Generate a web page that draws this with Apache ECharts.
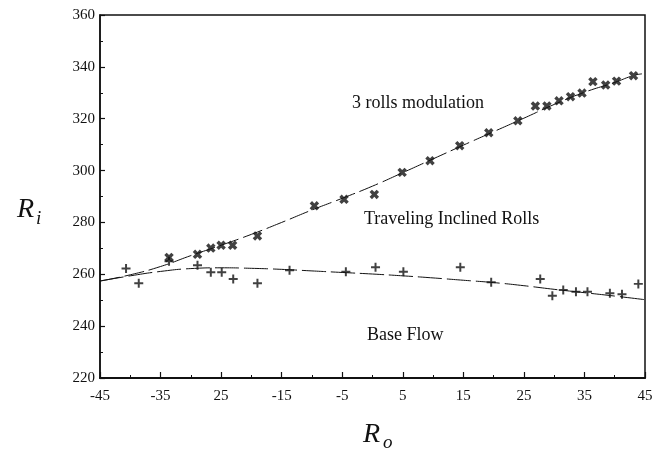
<!DOCTYPE html>
<html>
<head>
<meta charset="utf-8">
<script src="https://cdn.jsdelivr.net/npm/echarts@6/dist/echarts.min.js"></script>
<style>
html,body{margin:0;padding:0;background:#fff;}
#chart{width:666px;height:454px;}
</style>
</head>
<body>
<div id="chart"></div>
<script>
// ---- data ----
var xTickValues = [-45, -35, -25, -15, -5, 5, 15, 25, 35, 45];
var xTickLabels = ['-45', '-35', '25', '-15', '-5', '5', '15', '25', '35', '45'];
var yTickLabels = ['220', '240', '260', '280', '300', '320', '340', '360'];

// "x" markers (3 rolls modulation branch)
var crossX = [-33.6, -28.9, -26.7, -25.0, -23.1, -19.0, -9.6, -4.7, 0.3, 4.9, 9.5, 14.4, 19.2, 24.0, 26.9, 28.8, 30.8, 32.7, 34.6, 36.4, 38.5, 40.3, 43.1];
var crossY = [266.5, 267.7, 270.1, 271.2, 271.2, 274.8, 286.4, 288.9, 290.8, 299.3, 303.8, 309.6, 314.6, 319.2, 324.9, 324.9, 326.9, 328.5, 329.9, 334.3, 333.0, 334.5, 336.6];

// "+" markers (base flow boundary)
var plusX = [-40.7, -38.6, -33.6, -28.9, -26.7, -24.9, -23.0, -19.0, -13.7, -4.4, 0.5, 5.1, 14.5, 19.6, 27.7, 29.7, 31.5, 33.6, 35.5, 39.2, 41.2, 43.9];
var plusY = [262.2, 256.5, 265.0, 263.5, 260.8, 260.8, 258.2, 256.5, 261.6, 261.0, 262.7, 261.0, 262.7, 256.9, 258.2, 251.7, 253.9, 253.3, 253.3, 252.7, 252.3, 256.3];

// dashed fitted curves
var upperLineX = [-45, -40, -35, -30, -25, -20, -15, -10, -5, 0, 5, 10, 15, 20, 25, 30, 35, 40, 43, 44.5];
var upperLineY = [257.4, 259.8, 263.0, 267.2, 271.2, 275.4, 280.0, 284.8, 289.3, 294.0, 299.2, 304.5, 309.8, 315.0, 320.2, 325.5, 330.2, 334.0, 336.6, 337.3];
var lowerLineX = [-45, -40, -35, -30, -25, -20, -15, -10, -5, 0, 5, 10, 15, 20, 25, 30, 35, 40, 45];
var lowerLineY = [257.4, 259.4, 261.1, 262.2, 262.5, 262.3, 261.9, 261.3, 260.7, 260.1, 259.4, 258.6, 257.7, 256.8, 255.6, 254.2, 252.9, 251.6, 250.2];

function zip(a, b) { return a.map(function (v, i) { return [v, b[i]]; }); }

var FONT = 'Liberation Serif';
var INK = '#111';
var plusPath = 'path://M3.9 0H6.1V3.9H10V6.1H6.1V10H3.9V6.1H0V3.9H3.9Z';
var crossPath = 'path://M3.3 0H6.7V3.3H10V6.7H6.7V10H3.3V6.7H0V3.3H3.3Z';

var chart = echarts.init(document.getElementById('chart'));
chart.setOption({
  backgroundColor: '#fff',
  animation: false,
  grid: { left: 100, right: 21, top: 15, bottom: 76, show: true, borderColor: INK, borderWidth: 1.5, backgroundColor: 'transparent' },
  xAxis: [{
    type: 'value', min: -45, max: 45, interval: 5,
    axisLine: { show: true, onZero: false, lineStyle: { color: INK, width: 2 } },
    axisTick: { show: true, inside: true, length: 6, customValues: xTickValues, lineStyle: { color: INK, width: 1.2 } },
    axisLabel: { show: true, customValues: xTickValues, margin: 11, color: INK, fontFamily: FONT, fontSize: 15,
      formatter: function (v) { var i = xTickValues.indexOf(v); return i >= 0 ? xTickLabels[i] : ''; } },
    splitLine: { show: false }
  }, {
    type: 'value', min: -45, max: 45, interval: 5, position: 'bottom',
    axisLine: { show: false, onZero: false },
    axisTick: { show: true, inside: true, length: 3, lineStyle: { color: INK, width: 1 } },
    axisLabel: { show: false }, splitLine: { show: false }
  }],
  yAxis: [{
    type: 'value', min: 220, max: 360, interval: 20,
    axisLine: { show: true, onZero: false, lineStyle: { color: INK, width: 1.5 } },
    axisTick: { show: true, inside: true, length: 5, lineStyle: { color: INK, width: 1.2 } },
    minorTick: { show: true, splitNumber: 2, length: 3, lineStyle: { color: INK, width: 1 } },
    axisLabel: { show: true, margin: 5, color: INK, fontFamily: FONT, fontSize: 15,
      formatter: function (v) { var i = Math.round((v - 220) / 20); return yTickLabels[i] || ''; } },
    splitLine: { show: false }
  }],
  series: [{
    type: 'line', data: zip(upperLineX, upperLineY), smooth: true, symbol: 'none', xAxisIndex: 0,
    lineStyle: { color: INK, width: 1, type: [20, 5] }, z: 2
  }, {
    type: 'line', data: zip(lowerLineX, lowerLineY), smooth: true, symbol: 'none', xAxisIndex: 0,
    lineStyle: { color: INK, width: 1, type: [24, 5] }, z: 2
  }, {
    type: 'scatter', data: zip(crossX, crossY), symbol: crossPath, symbolSize: 10, symbolRotate: 45,
    itemStyle: { color: INK }, z: 3
  }, {
    type: 'scatter', data: zip(plusX, plusY), symbol: plusPath, symbolSize: 9,
    itemStyle: { color: INK }, z: 3
  }],
  graphic: [
    { type: 'text', left: 352, top: 94, style: { text: '3 rolls modulation', font: '18px "Liberation Serif"', fill: INK } },
    { type: 'text', left: 364, top: 210, style: { text: 'Traveling Inclined Rolls', font: '18px "Liberation Serif"', fill: INK } },
    { type: 'text', left: 367, top: 326, style: { text: 'Base Flow', font: '18px "Liberation Serif"', fill: INK } },
    { type: 'text', left: 17, top: 196, style: { text: 'R', font: 'italic 28px "Liberation Serif"', fill: INK } },
    { type: 'text', left: 36, top: 209, style: { text: 'i', font: 'italic 19px "Liberation Serif"', fill: INK } },
    { type: 'text', left: 363, top: 421, style: { text: 'R', font: 'italic 28px "Liberation Serif"', fill: INK } },
    { type: 'text', left: 383, top: 433, style: { text: 'o', font: 'italic 19px "Liberation Serif"', fill: INK } }
  ]
});
</script>
</body>
</html>
